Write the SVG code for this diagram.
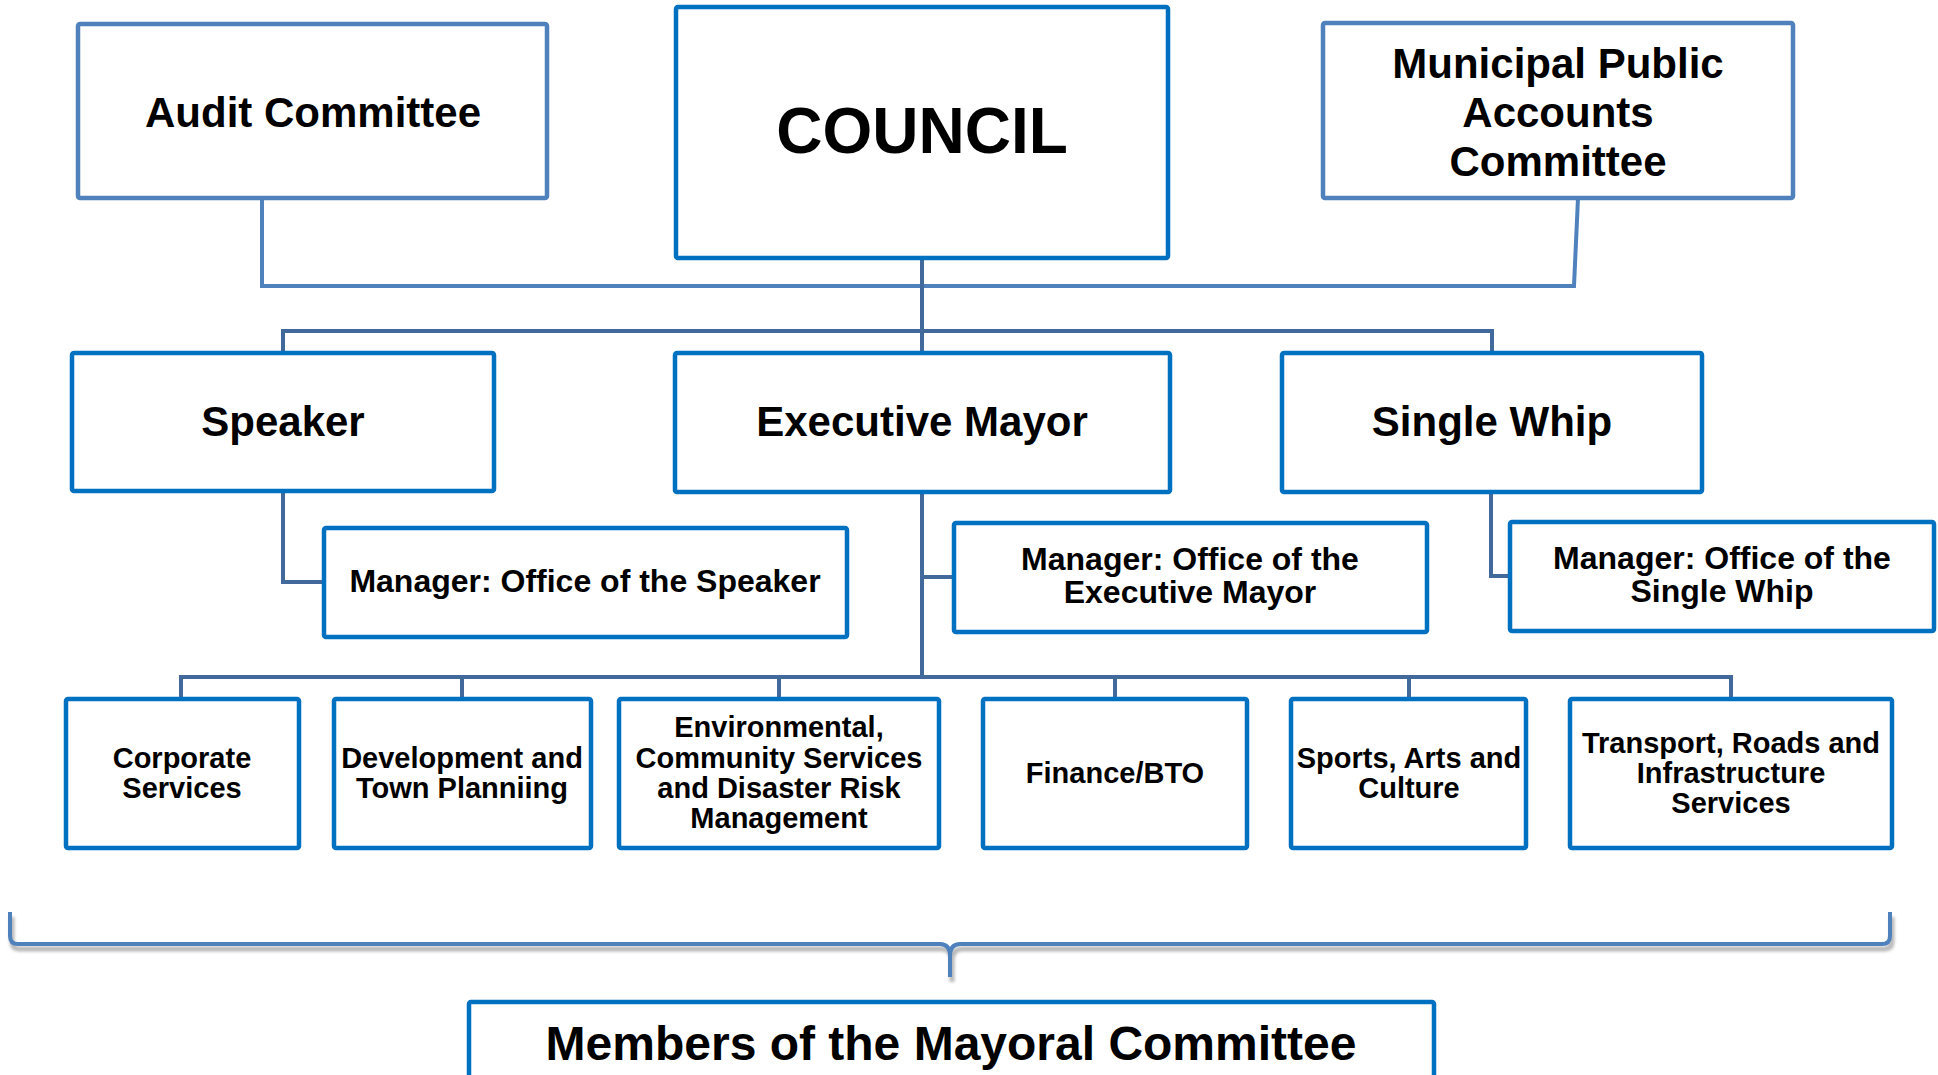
<svg xmlns="http://www.w3.org/2000/svg" width="1938" height="1075" viewBox="0 0 1938 1075">
  <style>
    .box { fill: #ffffff; stroke: #0070c0; stroke-width: 4.5; }
    .box.light { stroke: #4f81bd; }
    .lbl { font-family: "Liberation Sans", Arial, sans-serif; font-weight: bold; fill: #000000; text-anchor: middle; }
    .xl { font-size: 64px; }
    .l { font-size: 42px; }
    .m { font-size: 32px; }
    .s { font-size: 29px; }
    .xm { font-size: 48px; }
    .wire { fill: none; stroke: #41699b; stroke-width: 4; }
    .wire.light { stroke: #4f81bd; }
  </style>
  <defs>
    <filter id="soft" x="-5%" y="-50%" width="110%" height="200%">
      <feGaussianBlur stdDeviation="1.5"/>
    </filter>
  </defs>
  <rect width="1938" height="1075" fill="#ffffff"/>

  <!-- connectors -->
  <g id="connectors">
    <!-- committees to council -->
    <path class="wire light" d="M262,198 V286 H1574 L1578,198"/>
    <!-- council trunk -->
    <path class="wire" d="M922,258 V353"/>
    <!-- council to speaker and whip -->
    <path class="wire" d="M283,353 V331 H1492 V353"/>
    <!-- speaker to its office -->
    <path class="wire" d="M283,491 V582 H324"/>
    <!-- mayor trunk to departments -->
    <path class="wire" d="M922,492 V677"/>
    <path class="wire" d="M922,577 H954"/>
    <!-- whip to its office -->
    <path class="wire" d="M1491,492 V576 H1510"/>
    <!-- department bus -->
    <path class="wire" d="M181,699 V677 H1731 V699"/>
    <path class="wire" d="M462,677 V699 M779,677 V699 M1115,677 V699 M1409,677 V699"/>
    <!-- brace over departments -->
    <path d="M10,912 V936 Q10,944 18,944 H940 Q950,944 950,956 V977 M950,956 Q950,944 960,944 H1882 Q1890,944 1890,936 V912" fill="none" stroke="#9a9a9a" stroke-width="5" opacity="0.7" transform="translate(2,5)" filter="url(#soft)"/>
    <path class="wire light" d="M10,912 V936 Q10,944 18,944 H940 Q950,944 950,956 V977 M950,956 Q950,944 960,944 H1882 Q1890,944 1890,936 V912"/>
  </g>

  <g id="audit-committee">
    <rect class="box light" x="78" y="24" width="469" height="174" rx="2"/>
    <text class="lbl l" x="313" y="127">Audit Committee</text>
  </g>

  <g id="council">
    <rect class="box" x="676" y="7" width="492" height="251" rx="2"/>
    <text class="lbl xl" x="922" y="153">COUNCIL</text>
  </g>

  <g id="mpac">
    <rect class="box light" x="1323" y="23" width="470" height="175" rx="2"/>
    <text class="lbl l" x="1558" y="78">Municipal Public</text>
    <text class="lbl l" x="1558" y="127">Accounts</text>
    <text class="lbl l" x="1558" y="176">Committee</text>
  </g>

  <g id="speaker">
    <rect class="box" x="72" y="353" width="422" height="138" rx="2"/>
    <text class="lbl l" x="283" y="436">Speaker</text>
  </g>

  <g id="executive-mayor">
    <rect class="box" x="675" y="353" width="495" height="139" rx="2"/>
    <text class="lbl l" x="922" y="436">Executive Mayor</text>
  </g>

  <g id="single-whip">
    <rect class="box" x="1282" y="353" width="420" height="139" rx="2"/>
    <text class="lbl l" x="1492" y="436">Single Whip</text>
  </g>

  <g id="office-speaker">
    <rect class="box" x="324" y="528" width="523" height="109" rx="2"/>
    <text class="lbl m" x="585" y="592">Manager: Office of the Speaker</text>
  </g>

  <g id="office-mayor">
    <rect class="box" x="954" y="523" width="473" height="109" rx="2"/>
    <text class="lbl m" x="1190" y="570">Manager: Office of the</text>
    <text class="lbl m" x="1190" y="603">Executive Mayor</text>
  </g>

  <g id="office-whip">
    <rect class="box" x="1510" y="522" width="424" height="109" rx="2"/>
    <text class="lbl m" x="1722" y="569">Manager: Office of the</text>
    <text class="lbl m" x="1722" y="602">Single Whip</text>
  </g>

  <g id="corporate-services">
    <rect class="box" x="66" y="699" width="233" height="149" rx="2"/>
    <text class="lbl s" x="182" y="768">Corporate</text>
    <text class="lbl s" x="182" y="798">Services</text>
  </g>

  <g id="development-planning">
    <rect class="box" x="334" y="699" width="257" height="149" rx="2"/>
    <text class="lbl s" x="462" y="768">Development and</text>
    <text class="lbl s" x="462" y="798">Town Planniing</text>
  </g>

  <g id="environmental-community">
    <rect class="box" x="619" y="699" width="320" height="149" rx="2"/>
    <text class="lbl s" x="779" y="737">Environmental,</text>
    <text class="lbl s" x="779" y="768">Community Services</text>
    <text class="lbl s" x="779" y="798">and Disaster Risk</text>
    <text class="lbl s" x="779" y="828">Management</text>
  </g>

  <g id="finance-bto">
    <rect class="box" x="983" y="699" width="264" height="149" rx="2"/>
    <text class="lbl s" x="1115" y="783">Finance/BTO</text>
  </g>

  <g id="sports-arts-culture">
    <rect class="box" x="1291" y="699" width="235" height="149" rx="2"/>
    <text class="lbl s" x="1409" y="768">Sports, Arts and</text>
    <text class="lbl s" x="1409" y="798">Culture</text>
  </g>

  <g id="transport-roads">
    <rect class="box" x="1570" y="699" width="322" height="149" rx="2"/>
    <text class="lbl s" x="1731" y="753">Transport, Roads and</text>
    <text class="lbl s" x="1731" y="783">Infrastructure</text>
    <text class="lbl s" x="1731" y="813">Services</text>
  </g>

  <g id="mayoral-committee">
    <rect class="box" x="469" y="1002" width="965" height="100" rx="2"/>
    <text class="lbl xm" x="951" y="1060">Members of the Mayoral Committee</text>
  </g>
</svg>
